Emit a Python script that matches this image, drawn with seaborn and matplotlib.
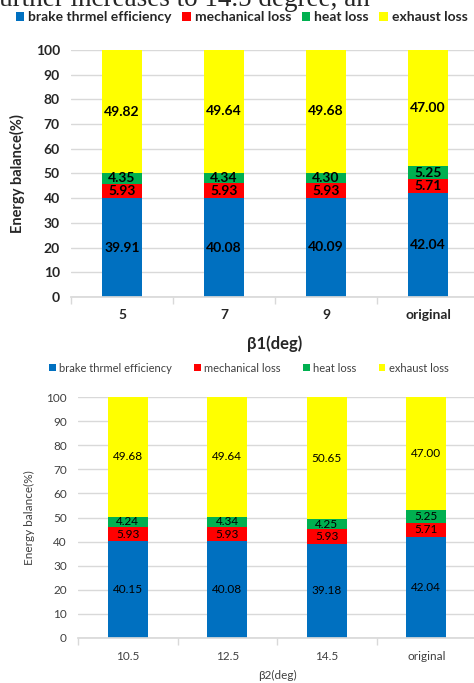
import numpy as np
import matplotlib
matplotlib.use("Agg")
import matplotlib.pyplot as plt
from matplotlib.patches import Patch
import pandas as pd
import seaborn as sns

# data
series = ["brake thrmel efficiency", "mechanical loss", "heat loss", "exhaust loss"]
colors = ["#0070C0", "#FF0000", "#00B050", "#FFFF00"]

beta1_cats = ["5", "7", "9", "original"]
beta1_bte = [39.91, 40.08, 40.09, 42.04]
beta1_mech = [5.93, 5.93, 5.93, 5.71]
beta1_heat = [4.35, 4.34, 4.30, 5.25]
beta1_exh = [49.82, 49.64, 49.68, 47.00]

beta2_cats = ["10.5", "12.5", "14.5", "original"]
beta2_bte = [40.15, 40.08, 39.18, 42.04]
beta2_mech = [5.93, 5.93, 5.93, 5.71]
beta2_heat = [4.24, 4.34, 4.25, 5.25]
beta2_exh = [49.68, 49.64, 50.65, 47.00]

sns.set_theme(style="white")
plt.rcParams["font.family"] = ["Lato", "DejaVu Sans"]

W, H = 474, 683
fig = plt.figure(figsize=(W / 100, H / 100), dpi=100)


def stacked(ax, cats, parts, bold, fs_tick, fs_val, width):
    weight = "bold" if bold else "normal"
    df = pd.DataFrame({"cat": cats})
    cum = np.cumsum(np.array(parts), axis=0)
    # draw cumulative totals from the top down so lower segments overlay
    for i in range(len(parts) - 1, -1, -1):
        df["v"] = cum[i]
        sns.barplot(data=df, x="cat", y="v", color=colors[i], saturation=1,
                    width=width, ax=ax, edgecolor="none", linewidth=0, zorder=2)
    for i in range(len(parts)):
        for j in range(len(cats)):
            base = cum[i][j] - parts[i][j]
            ax.text(j, base + parts[i][j] / 2, f"{parts[i][j]:.2f}", ha="center",
                    va="center", fontsize=fs_val, fontweight=weight, color="black",
                    zorder=3)
    ax.set_ylim(0, 100)
    ax.set_xlim(-0.5, len(cats) - 0.5)
    ax.set_yticks(range(0, 101, 10))
    ax.yaxis.grid(True, color="#D9D9D9", linewidth=1, zorder=0)
    ax.set_axisbelow(True)
    for s in ["top", "right", "left"]:
        ax.spines[s].set_visible(False)
    ax.spines["bottom"].set_color("#D9D9D9")
    ax.set_xticks(np.arange(-0.5, len(cats)), minor=True)
    ax.tick_params(axis="x", which="minor", length=5, color="#D9D9D9", width=1,
                   direction="out", bottom=True)
    ax.tick_params(axis="x", which="major", length=0, pad=9)
    ax.tick_params(axis="y", length=0, pad=8)
    for lab in ax.get_xticklabels() + ax.get_yticklabels():
        lab.set_fontsize(fs_tick)
        lab.set_fontweight(weight)
        lab.set_color("#404040" if not bold else "#262626")


ax1 = fig.add_axes([71 / W, 1 - 297 / H, 408 / W, 247 / H])
stacked(ax1, beta1_cats, [beta1_bte, beta1_mech, beta1_heat, beta1_exh],
        True, 10, 10, 0.39)
ax1.set_xlabel("β1(deg)", fontsize=12, fontweight="bold", labelpad=10,
               color="#262626")
ax1.set_ylabel("Energy balance(%)", fontsize=10.5, fontweight="bold", labelpad=8,
               color="#262626")

ax2 = fig.add_axes([78 / W, 1 - 638 / H, 398 / W, 241 / H])
stacked(ax2, beta2_cats, [beta2_bte, beta2_mech, beta2_heat, beta2_exh],
        False, 8.5, 8.5, 0.40)
ax2.set_xlabel("β2(deg)", fontsize=8.5, color="#404040", labelpad=6)
ax2.set_ylabel("Energy balance(%)", fontsize=8.5, color="#404040", labelpad=8)

handles = [Patch(facecolor=c, edgecolor="none") for c in colors]
fig.legend(handles, series, loc="center", bbox_to_anchor=(0.51, 1 - 17 / H),
           ncol=4, frameon=False, handlelength=0.6, handleheight=0.6,
           handletextpad=0.3, columnspacing=0.75,
           prop={"size": 10, "weight": "bold"}, labelcolor="#262626")
fig.legend(handles, series, loc="center", bbox_to_anchor=(0.525, 1 - 368 / H),
           ncol=4, frameon=False, handlelength=0.6, handleheight=0.6,
           handletextpad=0.3, columnspacing=2.0,
           prop={"size": 8}, labelcolor="#404040")

# clipped line of body text above the figure
fig.text(-0.022, 1 - 6 / H, "further increases to 14.5 degree, an", fontsize=19.5,
         family="Liberation Serif", va="baseline", ha="left")

fig.savefig("out.png", dpi=100)
